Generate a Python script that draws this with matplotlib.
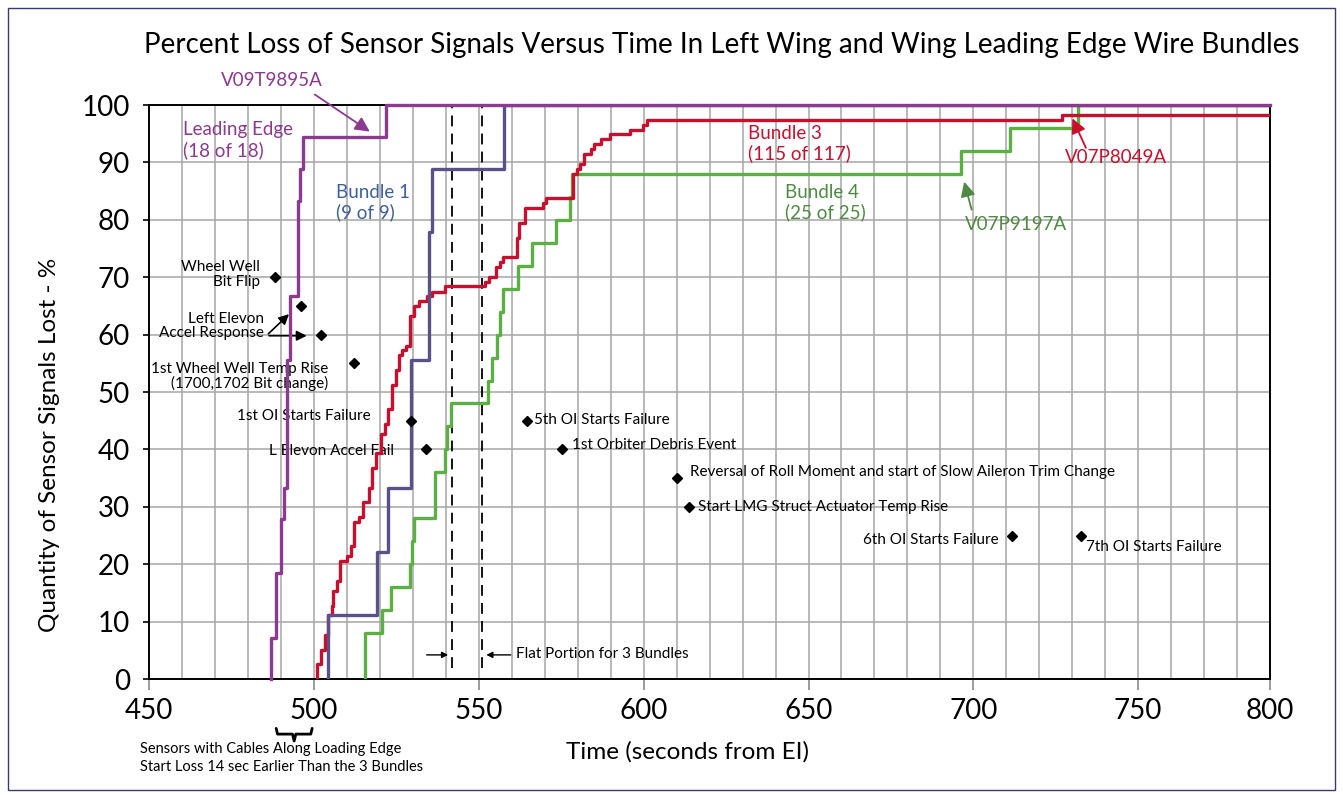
import numpy as np
import matplotlib.pyplot as plt
from matplotlib.patches import Rectangle

plt.rcParams['font.family'] = ['Lato', 'DejaVu Sans']

# ---- values (time in s from EI, percent of sensors lost) ----
le_time = [487.0, 487.0, 488.5, 490.0, 491.0, 491.7, 492.8, 495.0, 495.7, 496.5, 521.7, 790]
le_pct = [0, 7.2, 18.5, 27.8, 33.3, 55.6, 66.7, 83.3, 88.9, 94.4, 100, 100]

b1_time = [504.1, 504.1, 519.2, 522.5, 529.3, 534.8, 535.8, 557.5, 790]
b1_pct = [0, 11.1, 22.2, 33.3, 55.6, 77.8, 88.9, 100, 100]

b3_time = [500.8, 500.8, 502.1, 503.3, 504.3, 505.3, 505.8, 506.8, 507.9, 510.1,
           511.1, 512.1, 513.7, 514.9, 516.7, 517.7, 518.9, 520.2, 521.5, 522.5,
           523.5, 524.7, 525.7, 526.7, 527.8, 529.1, 530.3, 531.8, 534.3, 535.8,
           539.8, 551.7, 553.1, 555.1, 556.5, 557.2, 561.5, 562.2, 564.0, 569.5,
           570.2, 578.6, 579.9, 580.6, 581.9, 584.1, 584.9, 587.0, 589.7, 595.7,
           599.8, 601.1, 727.0, 790]
b3_pct = [0, 2.6, 5.1, 7.7, 11.1, 12.8, 15.4, 17.1, 20.5, 21.4,
          23.1, 27.4, 28.2, 30.8, 33.3, 36.8, 39.3, 42.7, 44.4, 47.0,
          51.3, 53.8, 56.4, 57.3, 58.1, 63.2, 65.0, 65.8, 66.7, 67.5,
          68.4, 69.2, 70.1, 71.8, 72.6, 73.5, 76.9, 79.5, 82.1, 82.9,
          83.8, 88.0, 88.9, 89.7, 91.5, 92.3, 93.2, 94.0, 94.9, 95.7,
          96.6, 97.4, 98.3, 98.3]

b4_time = [515.5, 515.5, 520.5, 523.4, 529.1, 529.8, 530.3, 536.6, 539.8, 540.3,
           541.5, 552.7, 554.0, 555.5, 556.5, 557.2, 561.8, 566.2, 573.4, 577.6,
           578.3, 696.4, 711.2, 731.7, 790]
b4_pct = [0, 8, 12, 16, 20, 24, 28, 36, 40, 44,
          48, 52, 56, 60, 64, 68, 72, 76, 80, 84,
          88, 92, 96, 100, 100]

event_time = [488.0, 496.0, 502.1, 512.1, 529.5, 533.8, 564.5, 575.1, 610.0, 613.7, 711.8, 732.6]
event_pct = [70.0, 65.0, 60.0, 55.0, 45.0, 40.0, 45.0, 40.0, 35.0, 30.0, 25.0, 25.0]

flat_lines = [541.8, 550.8]

x_ticks = [450, 500, 550, 600, 650, 700, 750, 790]
x_tick_labels = ['450', '500', '550', '600', '650', '700', '750', '800']
y_ticks = list(range(0, 101, 10))

LE = '#8b3a8f'
B1 = '#5a5188'
B1_TXT = '#3f5f9e'
B3 = '#c8102e'
B4 = '#5cb043'
B4_TXT = '#4f8a42'

W, H = 1343, 795
fig = plt.figure(figsize=(W / 100, H / 100), dpi=100)
ax = fig.add_axes([149.3 / W, 1 - 679 / H, (1270 - 149.3) / W, (679 - 105) / H])

ax.set_xlim(450, 790)
ax.set_ylim(0, 100)
ax.set_xticks(x_ticks, x_tick_labels)
ax.set_xticks(np.arange(460, 790, 10), minor=True)
ax.set_yticks(y_ticks)
ax.tick_params(axis='both', labelsize=20)
ax.tick_params(axis='x', which='major', length=8, width=1.2, color='#8a8a8a', pad=6)
ax.tick_params(axis='x', which='minor', length=0)
ax.tick_params(axis='y', length=4, width=1.2, pad=10)
ax.grid(True, which='both', color='#a6a6a6', lw=1.1, zorder=0)
for s in ax.spines.values():
    s.set_linewidth(1.4)
    s.set_color('black')

# dashed "flat portion" markers
ax.vlines(flat_lines, 2, 100, colors='k', linestyles=(0, (6, 4)), lw=1.3, zorder=2)

ax.step(b4_time, b4_pct, where='post', color=B4, lw=2.4, zorder=3)
ax.step(b3_time, b3_pct, where='post', color=B3, lw=2.4, zorder=4)
ax.step(b1_time, b1_pct, where='post', color=B1, lw=2.4, zorder=5)
ax.step(le_time, le_pct, where='post', color=LE, lw=2.4, zorder=6, clip_on=False)

ax.plot(event_time, event_pct, 'D', color='k', ms=5, zorder=7)

# curve labels
lab = dict(fontsize=13.5, ha='left', va='center', linespacing=1.2)
ax.text(460.2, 93.9, 'Leading Edge\n(18 of 18)', color=LE, **lab)
ax.text(506.7, 83.0, 'Bundle 1\n(9 of 9)', color=B1_TXT, **lab)
ax.text(631.5, 93.3, 'Bundle 3\n(115 of 117)', color=B3, **lab)
ax.text(642.8, 83.0, 'Bundle 4\n(25 of 25)', color=B4_TXT, **lab)

arr = dict(arrowstyle='-|>', lw=1.3, mutation_scale=22)
ax.text(487.1, 104.2, 'V09T9895A', color=LE, fontsize=13.5, ha='center', va='center', clip_on=False)
ax.annotate('', xy=(517.6, 95.1), xytext=(499.5, 102.1), annotation_clip=False,
            arrowprops=dict(arr, color=LE))
ax.text(727.8, 90.9, 'V07P8049A', color=B3, fontsize=13.5, ha='left', va='center')
ax.annotate('', xy=(729.7, 98.1), xytext=(734.5, 92.1), arrowprops=dict(arr, color=B3))
ax.text(697.3, 79.2, 'V07P9197A', color=B4_TXT, fontsize=13.5, ha='left', va='center')
ax.annotate('', xy=(697.0, 87.1), xytext=(699.7, 81.3), arrowprops=dict(arr, color=B4_TXT))

# event labels
ev = dict(fontsize=11, va='center', color='black')
ax.text(483.5, 70.5, 'Wheel Well\nBit Flip', ha='right', linespacing=1.1, **ev)
ax.text(484.7, 61.5, 'Left Elevon\nAccel Response', ha='right', linespacing=1.0, **ev)
ax.text(504.3, 52.7, '1st Wheel Well Temp Rise\n(1700,1702 Bit change)', ha='right', linespacing=1.0, **ev)
ax.text(517.2, 45.9, '1st OI Starts Failure', ha='right', **ev)
ax.text(524.2, 39.8, 'L Elevon Accel Fail', ha='right', **ev)
ax.text(566.8, 45.1, '5th OI Starts Failure', ha='left', **ev)
ax.text(578.3, 40.7, '1st Orbiter Debris Event', ha='left', **ev)
ax.text(613.9, 36.0, 'Reversal of Roll Moment and start of Slow Aileron Trim Change', ha='left', **ev)
ax.text(616.4, 30.0, 'Start LMG Struct Actuator Temp Rise', ha='left', **ev)
ax.text(707.6, 24.3, '6th OI Starts Failure', ha='right', **ev)
ax.text(734.2, 23.0, '7th OI Starts Failure', ha='left', **ev)
ax.text(561.1, 4.3, 'Flat Portion for 3 Bundles', ha='left', **ev)

karr = dict(arrowstyle='-|>', lw=1.2, color='k', mutation_scale=15)
ax.annotate('', xy=(493.0, 63.9), xytext=(485.5, 59.8), arrowprops=karr)
ax.annotate('', xy=(498.6, 59.8), xytext=(485.5, 59.8), arrowprops=karr)
sarr = dict(arrowstyle='-|>', lw=1.0, color='k', mutation_scale=9)
ax.annotate('', xy=(flat_lines[0] - 0.3, 4.2), xytext=(533.3, 4.2), arrowprops=sarr)
ax.annotate('', xy=(flat_lines[1] + 0.6, 4.2), xytext=(560.5, 4.2), arrowprops=sarr)

# brace under the 500 label spanning the leading edge lead time
b0, b1e = le_time[0] + 1.5, b3_time[0] - 1.4
bm = (b0 + b1e) / 2
ax.plot([b0, b0 + 0.4, bm - 0.5, bm, bm + 0.5, b1e - 0.4, b1e],
        [-8.6, -9.6, -9.6, -10.8, -9.6, -9.6, -8.6],
        color='k', lw=2, clip_on=False, solid_capstyle='round')

fig.text(722 / W, 1 - 45 / H,
         'Percent Loss of Sensor Signals Versus Time In Left Wing and Wing Leading Edge Wire Bundles',
         ha='center', va='center', fontsize=20)
fig.text(50 / W, 1 - 445 / H, 'Quantity of Sensor Signals Lost - %', rotation=90,
         ha='center', va='center', fontsize=17.5)
fig.text(687 / W, 1 - 752 / H, 'Time (seconds from EI)', ha='center', va='center', fontsize=17.5)
fig.text(140 / W, 1 - 749 / H, 'Sensors with Cables Along Loading Edge', ha='left', va='center', fontsize=10.5)
fig.text(140 / W, 1 - 767 / H, 'Start Loss 14 sec Earlier Than the 3 Bundles', ha='left', va='center', fontsize=10.5)

fig.patches.append(Rectangle((8 / W, 5 / H), 1327 / W, 782 / H, transform=fig.transFigure,
                             fill=False, edgecolor='#3a3a70', lw=1))

fig.savefig('out.png', dpi=100)
